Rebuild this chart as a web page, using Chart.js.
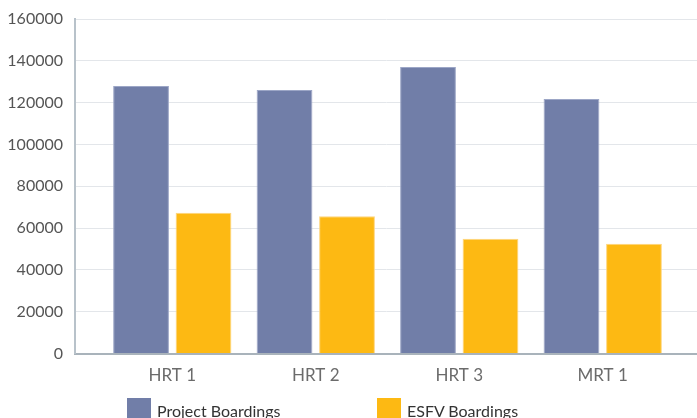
<!DOCTYPE html>
<html>
<head>
<meta charset="utf-8">
<script src="https://cdn.jsdelivr.net/npm/chart.js@4"></script>
<style>
    html, body { margin: 0; padding: 0; background: #fff; overflow: hidden; }
    #wrap { position: relative; width: 697px; height: 418px; }
    #legend { position: absolute; left: 127px; top: 398px; display: flex; font-family: Lato, sans-serif; font-size: 16px; color: #333; }
    #legend .item { display: flex; align-items: flex-start; width: 250px; }
    #legend .box { width: 24px; height: 24px; margin-right: 6px; }
    #legend .label { margin-top: 3px; line-height: 20px; }
</style>
</head>
<body>
<div id="wrap">
    <canvas id="boardings-chart" width="697" height="418"></canvas>
    <div id="legend"></div>
</div>
<script>
// Data
const categories = ['HRT 1', 'HRT 2', 'HRT 3', 'MRT 1'];
const projectBoardings = [128000, 126000, 137000, 121700];
const esfvBoardings = [67300, 65700, 54900, 52500];
const yTicks = [0, 20000, 40000, 60000, 80000, 100000, 120000, 140000, 160000];

// html legend, built from the chart's own legend items
const htmlLegend = {
    id: 'htmlLegend',
    afterUpdate(chart) {
        const box = document.getElementById('legend');
        box.innerHTML = '';
        chart.options.plugins.legend.labels.generateLabels(chart).forEach(item => {
            const el = document.createElement('div');
            el.className = 'item';
            const sw = document.createElement('span');
            sw.className = 'box';
            sw.style.background = item.fillStyle;
            const txt = document.createElement('span');
            txt.className = 'label';
            txt.textContent = item.text;
            el.appendChild(sw);
            el.appendChild(txt);
            box.appendChild(el);
        });
    }
};

new Chart(document.getElementById('boardings-chart'), {
    type: 'bar',
    data: {
        datasets: [
            {
                label: 'Project Boardings',
                data: projectBoardings.map((v, i) => ({ x: i, y: v })),
                backgroundColor: '#717ea8',
                borderColor: '#9ca6c6',
                borderWidth: 1,
                categoryPercentage: 0.871,
                barPercentage: 0.893,
            },
            {
                label: 'ESFV Boardings',
                data: esfvBoardings.map((v, i) => ({ x: i, y: v })),
                backgroundColor: '#fdb913',
                borderColor: '#fed57e',
                borderWidth: 1,
                categoryPercentage: 0.871,
                barPercentage: 0.893,
            }
        ]
    },
    options: {
        responsive: false,
        animation: false,
        layout: {
            padding: { top: 19, right: 0, bottom: 20, left: 0 },
        },
        plugins: {
            legend: { display: false },
            tooltip: { enabled: false },
        },
        scales: {
            x: {
                type: 'linear',
                offset: false,
                min: -0.678,
                max: 3.657,
                grid: { display: false, drawTicks: false, offset: false },
                border: { color: '#a9b3bb', width: 2 },
                ticks: {
                    stepSize: 1,
                    includeBounds: false,
                    padding: 12,
                    color: '#6b6b6b',
                    font: { family: 'Lato', size: 17 },
                    callback: (v) => Number.isInteger(v) ? (categories[v] || '') : '',
                },
            },
            y: {
                min: 0,
                max: 160000,
                afterBuildTicks: (scale) => { scale.ticks = yTicks.map(v => ({ value: v })); },
                afterFit: (scale) => {
                    scale.width = 75;
                    // tick padding would otherwise push the top down
                    scale.paddingTop = 0;
                    scale.paddingBottom = 0;
                },
                grid: { color: '#e3e6ea', lineWidth: 1, drawTicks: false },
                border: { color: '#b8c2ca', width: 2 },
                ticks: {
                    padding: 12,
                    color: '#555',
                    font: { family: 'Lato', size: 16 },
                    callback: (v) => String(v),
                },
            },
        },
    },
    plugins: [htmlLegend],
});
</script>
</body>
</html>
